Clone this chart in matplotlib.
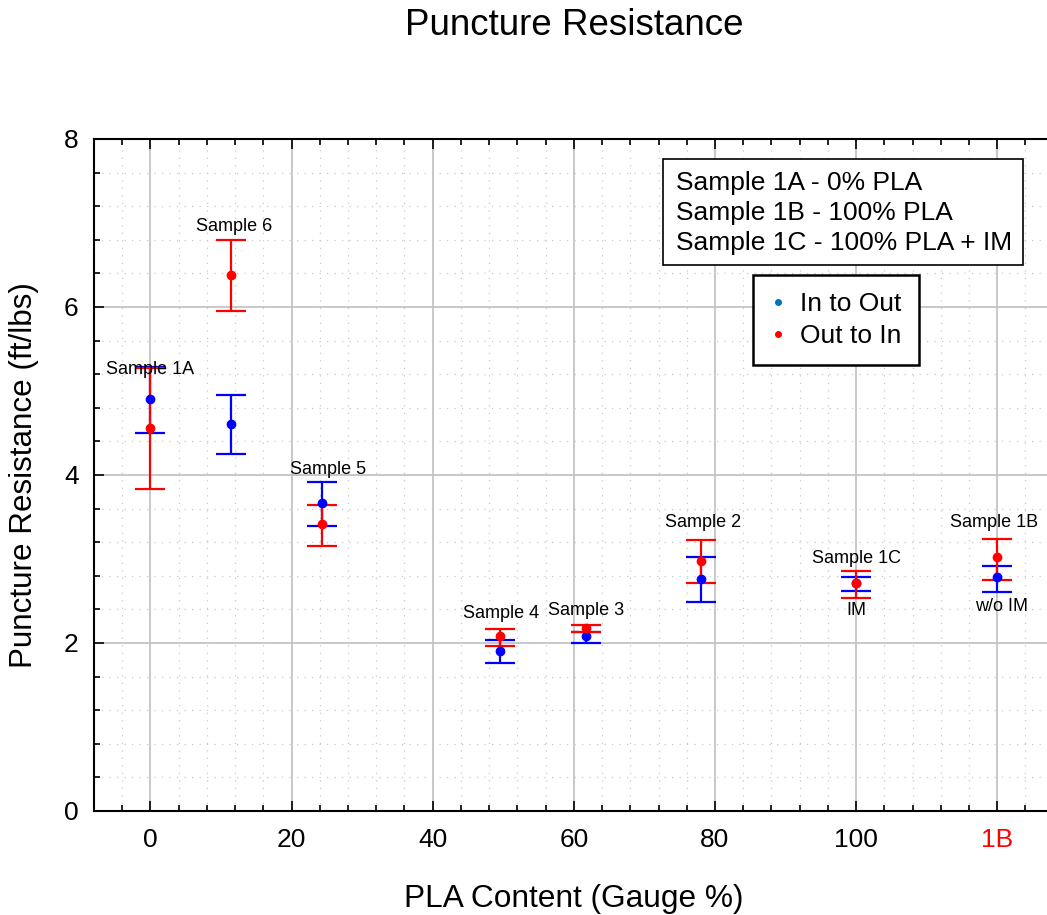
import matplotlib.pyplot as plt
from matplotlib.lines import Line2D
from matplotlib.patches import Rectangle
from matplotlib.ticker import MultipleLocator

plt.rcParams["font.family"] = ["Liberation Sans", "DejaVu Sans"]

# gauge % of PLA for each sample (1B is plotted at 120)
pla_content = [0, 11.4, 24.3, 49.5, 61.7, 78.0, 100, 120]
sample_names = ["Sample 1A", "Sample 6", "Sample 5", "Sample 4",
                "Sample 3", "Sample 2", "Sample 1C", "Sample 1B"]

# In to Out: mean, lower and upper error limits (ft/lbs)
in_out_mean = [4.91, 4.61, 3.67, 1.91, 2.08, 2.76, 2.71, 2.79]
in_out_low = [4.50, 4.25, 3.39, 1.76, 2.00, 2.49, 2.62, 2.61]
in_out_high = [5.29, 4.95, 3.92, 2.04, 2.13, 3.02, 2.79, 2.92]

# Out to In
out_in_mean = [4.56, 6.38, 3.42, 2.08, 2.18, 2.98, 2.71, 3.02]
out_in_low = [3.83, 5.95, 3.15, 1.96, 2.13, 2.71, 2.54, 2.75]
out_in_high = [5.27, 6.80, 3.64, 2.17, 2.21, 3.23, 2.86, 3.24]

x_ticks = [0, 20, 40, 60, 80, 100, 120]
x_tick_labels = ["0", "20", "40", "60", "80", "100", "1B"]

legend_notes = ["Sample 1A - 0% PLA", "Sample 1B - 100% PLA", "Sample 1C - 100% PLA + IM"]

W, H = 1047, 915
fig = plt.figure(figsize=(W / 100, H / 100), dpi=100)

xmin, xmax = -8, 130
px_per_unit = 7.06
left = 94
right = 150 + xmax * px_per_unit
ax = fig.add_axes([left / W, (H - 811) / H, (right - left) / W, (811 - 139) / H])
ax.set_xlim(xmin, xmax)
ax.set_ylim(0, 8)

ax.xaxis.set_major_locator(MultipleLocator(20))
ax.xaxis.set_minor_locator(MultipleLocator(4))
ax.yaxis.set_major_locator(MultipleLocator(2))
ax.yaxis.set_minor_locator(MultipleLocator(0.4))
ax.set_xticks(x_ticks)
ax.set_xticklabels(x_tick_labels)
ax.get_xticklabels()[-1].set_color("red")

ax.grid(which="major", color="#c4c4c4", linewidth=1.3, linestyle="-")
ax.grid(which="minor", color="#c8c8c8", linewidth=0.9, linestyle=(0, (1, 5)))
ax.set_axisbelow(True)

ax.tick_params(which="both", direction="in", top=True, right=False, width=1.2)
ax.tick_params(which="major", length=7, labelsize=19)
ax.tick_params(axis="x", which="major", pad=12)
ax.tick_params(axis="y", which="major", pad=11)
ax.tick_params(which="minor", length=4)
for side in ("left", "top", "bottom"):
    ax.spines[side].set_linewidth(1.5)
ax.spines["right"].set_visible(False)

err_style = dict(fmt="o", markersize=6, capsize=10.5, elinewidth=1.6, capthick=1.6)
ax.errorbar(pla_content, in_out_mean,
            yerr=[[m - lo for m, lo in zip(in_out_mean, in_out_low)],
                  [hi - m for m, hi in zip(in_out_mean, in_out_high)]],
            color="blue", **err_style)
ax.errorbar(pla_content, out_in_mean,
            yerr=[[m - lo for m, lo in zip(out_in_mean, out_in_low)],
                  [hi - m for m, hi in zip(out_in_mean, out_in_high)]],
            color="red", **err_style)

# sample name placement (data coords)
name_pos = [(0, 5.26), (11.8, 6.96), (25.2, 4.07), (49.7, 2.35),
            (61.8, 2.39), (78.3, 3.44), (100, 3.01), (119.6, 3.43)]
for name, (tx, ty) in zip(sample_names, name_pos):
    ax.text(tx, ty, name, fontsize=13, ha="center", va="center")
ax.text(100.1, 2.39, "IM", fontsize=13, ha="center", va="center")
ax.text(120.6, 2.44, "w/o IM", fontsize=13, ha="center", va="center")

# note box with the sample descriptions
fig.add_artist(Rectangle((663 / W, 1 - 265 / H), 360 / W, 106 / H,
                         transform=fig.transFigure, facecolor="white",
                         edgecolor="black", linewidth=1.2, zorder=5))
fig.text(676 / W, 1 - 213 / H, "\n".join(legend_notes), fontsize=19,
         ha="left", va="center", linespacing=1.3, zorder=6)

handles = [
    Line2D([], [], linestyle="none", marker="o", markersize=4, color="#0072BD"),
    Line2D([], [], linestyle="none", marker="o", markersize=4, color="red"),
]
leg = ax.legend(handles, ["In to Out", "Out to In"], loc="upper left",
                bbox_to_anchor=(753 / W, 1 - 275 / H), bbox_transform=fig.transFigure,
                borderaxespad=0, fontsize=19, fancybox=False, framealpha=1,
                edgecolor="black", handlelength=0.6, handletextpad=0.55,
                borderpad=0.65, labelspacing=0.3)
leg.get_frame().set_linewidth(1.8)

fig.text(574 / W, 1 - 35 / H, "Puncture Resistance", fontsize=26.5,
         ha="center", va="baseline")
fig.text(574 / W, 1 - 907 / H, "PLA Content (Gauge %)", fontsize=22.8,
         ha="center", va="baseline")
fig.text(24 / W, 1 - 475 / H, "Puncture Resistance (ft/lbs)", fontsize=22.6,
         rotation=90, ha="center", va="center")

fig.savefig("out.png", dpi=100)
